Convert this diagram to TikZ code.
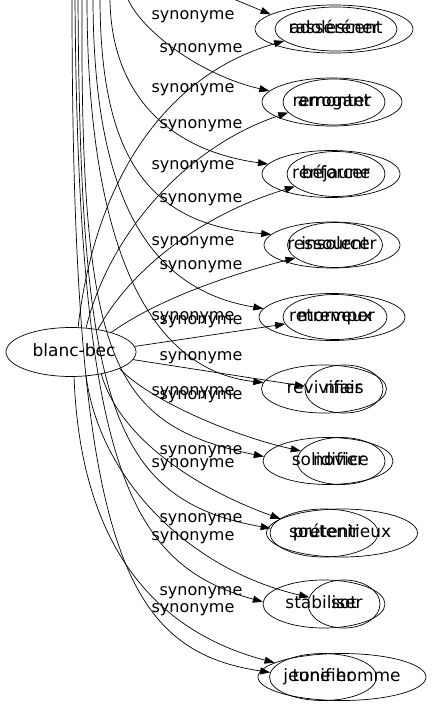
\documentclass[tikz,border=0pt]{standalone}
\usepackage{fontspec}
\setmainfont{DejaVu Sans}
\usepackage{tikz}
\usetikzlibrary{shapes.geometric, arrows.meta}
\tikzstyle{syn} = [line width=0.7pt,-{Triangle[length=10pt,width=7pt]}]
\tikzstyle{mot} = [draw, line width=0.7pt, ellipse, inner sep=0pt, text height=12pt, text depth=4pt, font=\fontsize{17}{20}\selectfont]
\tikzstyle{lab} = [inner sep=0pt, text height=9pt, text depth=3.5pt, font=\fontsize{16}{19}\selectfont]

\begin{document}
\begin{tikzpicture}[x=1pt,y=-1pt]
	\useasboundingbox (0,0) rectangle (434,707);

	%Nodes
	\node[mot, minimum width=130pt, minimum height=49pt] (blancBec) at (71,352) {\makebox[0pt]{\hspace{6pt}blanc-bec}};

	\node[mot, minimum width=158pt, minimum height=48pt] (rasserener) at (334,29) {\makebox[0pt]{rasséréner}};
	\node[mot, minimum width=122pt, minimum height=44pt] (adolescent) at (336,29) {\makebox[0pt]{adolescent}};
	\node[mot, minimum width=140pt, minimum height=48pt] (remonter) at (332,102) {\makebox[0pt]{remonter}};
	\node[mot, minimum width=102pt, minimum height=46pt] (arrogant) at (334,102) {\makebox[0pt]{arrogant}};
	\node[mot, minimum width=138pt, minimum height=47pt] (renforcer) at (331,174) {\makebox[0pt]{renforcer}};
	\node[mot, minimum width=98pt, minimum height=45pt] (bejaune) at (336,174) {\makebox[0pt]{béjaune}};
	\node[mot, minimum width=136pt, minimum height=46pt] (ressourcer) at (332,245) {\makebox[0pt]{ressourcer}};
	\node[mot, minimum width=95pt, minimum height=45pt] (insolent) at (335,245) {\makebox[0pt]{insolent}};
	\node[mot, minimum width=146pt, minimum height=47pt] (retremper) at (332,317) {\makebox[0pt]{retremper}};
	\node[mot, minimum width=104pt, minimum height=45pt] (morveux) at (335,317) {\makebox[0pt]{morveux}};
	\node[mot, minimum width=125pt, minimum height=48pt] (revivifier) at (324,389) {\makebox[0pt]{revivifier}};
	\node[mot, minimum width=78pt, minimum height=48pt] (niais) at (344,389) {\makebox[0pt]{niais}};
	\node[mot, minimum width=130pt, minimum height=47pt] (solidifier) at (328,461) {\makebox[0pt]{solidifier}};
	\node[mot, minimum width=88pt, minimum height=47pt] (novice) at (341,461) {\makebox[0pt]{novice}};
	\node[mot, minimum width=108pt, minimum height=48pt] (soutenir) at (324,533) {\makebox[0pt]{soutenir}};
	\node[mot, minimum width=151pt, minimum height=48pt] (pretentieux) at (342,533) {\makebox[0pt]{prétentieux}};
	\node[mot, minimum width=122pt, minimum height=48pt] (stabiliser) at (324,604) {\makebox[0pt]{stabiliser}};
	\node[mot, minimum width=72pt, minimum height=48pt] (sot) at (344,604) {\makebox[0pt]{sot}};
	\node[mot, minimum width=107pt, minimum height=47pt] (tonifier) at (323,677) {\makebox[0pt]{tonifier}};
	\node[mot, minimum width=168pt, minimum height=47pt] (jeuneHomme) at (342,677) {\makebox[0pt]{jeune homme}};

	%Coordinates
	\coordinate (topOne) at (219,-7);
	\coordinate (topTwo) at (127,-3);
	\coordinate (topThree) at (110,-3);
	\coordinate (topFour) at (100,-3);
	\coordinate (topFive) at (93,-3);
	\coordinate (topSix) at (87,-3);
	\coordinate (topSeven) at (82,-3);
	\coordinate (topEight) at (78,-3);
	\coordinate (topNine) at (75,-3);
	\coordinate (topTen) at (72,-3);

	%Arrows from above
	\draw[syn] (topOne) -- (rasserener.167);
	\draw[syn] (topTwo) .. controls (140,30) and (200,75) .. (remonter.170);
	\draw[syn] (topThree) .. controls (110,90) and (165,150) .. (renforcer.171);
	\draw[syn] (topFour) .. controls (100,160) and (150,225) .. (ressourcer.170);
	\draw[syn] (topFive) .. controls (93,200) and (150,290) .. (retremper.173);
	\draw[syn] (topSix) .. controls (87,250) and (150,370) .. (revivifier.174);
	\draw[syn] (topSeven) .. controls (80,360) and (110,425) .. (solidifier.176);
	\draw[syn] (topEight) .. controls (80,400) and (110,500) .. (soutenir.175);
	\draw[syn] (topNine) .. controls (78,470) and (130,565) .. (stabiliser.178);
	\draw[syn] (topTen) .. controls (72,540) and (120,650) .. (tonifier.175);

	%Arrows from blanc-bec
	\draw[syn] (blancBec.74) .. controls (95,180) and (165,75) .. (adolescent.193);
	\draw[syn] (blancBec.58) .. controls (110,230) and (190,145) .. (arrogant.193);
	\draw[syn] (blancBec.40) .. controls (130,270) and (200,215) .. (bejaune.197);
	\draw[syn] (blancBec.26) .. controls (150,305) and (210,280) .. (insolent.198);
	\draw[syn] (blancBec.5) -- (morveux.188);
	\draw[syn] (blancBec.-7) -- (niais.176);
	\draw[syn] (blancBec.-19) .. controls (150,400) and (230,435) .. (novice.166);
	\draw[syn] (blancBec.-36) .. controls (120,440) and (200,490) .. (pretentieux.167);
	\draw[syn] (blancBec.-58) .. controls (100,480) and (190,570) .. (sot.169);
	\draw[syn] (blancBec.-83) .. controls (80,540) and (150,630) .. (jeuneHomme.168);

	%TextNodes
	\node[lab] (synOne) at (193,17) {synonyme};
	\node[lab] (synTwo) at (201,50) {synonyme};
	\node[lab] (synThree) at (193,90) {synonyme};
	\node[lab] (synFour) at (201,126) {synonyme};
	\node[lab] (synFive) at (193,167) {synonyme};
	\node[lab] (synSix) at (201,200) {synonyme};
	\node[lab] (synSeven) at (193,243) {synonyme};
	\node[lab] (synEight) at (201,267) {synonyme};
	\node[lab] (synNine) at (193,318) {synonyme};
	\node[lab] (synTen) at (201,322) {synonyme};
	\node[lab] (synEleven) at (201,358) {synonyme};
	\node[lab] (synTwelve) at (193,393) {synonyme};
	\node[lab] (synThirteen) at (201,397) {synonyme};
	\node[lab] (synFourteen) at (201,452) {synonyme};
	\node[lab] (synFifteen) at (193,465) {synonyme};
	\node[lab] (synSixteen) at (201,520) {synonyme};
	\node[lab] (synSeventeen) at (193,538) {synonyme};
	\node[lab] (synEighteen) at (201,593) {synonyme};
	\node[lab] (synNineteen) at (193,610) {synonyme};
\end{tikzpicture}
\end{document}
